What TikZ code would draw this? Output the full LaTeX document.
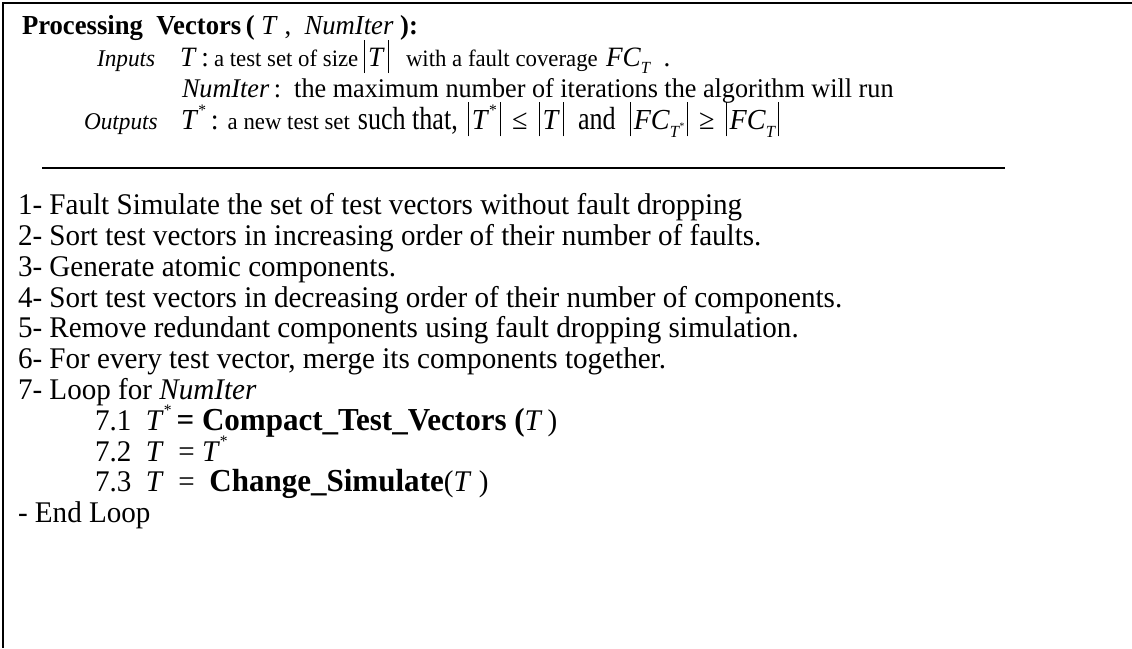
\documentclass[tikz,border=0pt]{standalone}
\usepackage{fontspec}
\setmainfont{Liberation Serif}[FakeStretch=0.97]
\newcommand\bodysize{\fontsize{30}{31}\selectfont}
\newcommand\midsize{\fontsize{27}{28}\selectfont}
\newcommand\headsize{\fontsize{27.5}{29}\selectfont}
\newcommand\labsize{\fontsize{24}{25}\selectfont}
\newcommand\smallsize{\fontsize{23.5}{25}\selectfont}
\newcommand\boldsize{\fontsize{32}{33}\selectfont}
% tall absolute-value bar
\newcommand\absline{\rule[-0.25em]{1.1pt}{1.18em}}
\newcommand\absof[1]{\absline\hspace{3pt}#1\hspace{3pt}\absline}
% lowered italic subscript
\newcommand\lowsub[1]{\raisebox{-0.28em}{\fontsize{17}{17}\selectfont\itshape #1}}
\newcommand\starsup{\raisebox{0.48em}{\fontsize{16}{16}\selectfont *}}
\newcommand\tinystar{\raisebox{0.42em}{\fontsize{10}{10}\selectfont *}}
% wide words set in a tall, narrow cut
\newcommand\tallword[1]{\scalebox{0.84}[1]{\fontsize{32}{33}\selectfont #1}}
\newcommand\gap[1]{\hspace{#1pt}}
\tikzset{
  txt/.style={anchor=base west, inner sep=0pt, outer sep=0pt, font=\bodysize},
  sym/.style={txt, font=\fontsize{28}{29}\selectfont},
  sml/.style={txt, font=\smallsize},
  frame/.style={line width=2pt, black}
}
\begin{document}
\begin{tikzpicture}[x=1pt,y=-1pt]
\useasboundingbox (0,0) rectangle (1132,648);
% open frame along top and left
\coordinate (frTL) at (3,3);
\coordinate (frTR) at (1132,3);
\coordinate (frBL) at (3,648);
\draw[frame] (frTR) -- (frTL) -- (frBL);

% header
\node[txt, font=\headsize] (title) at (22,34) {\textbf{Processing\ \ Vectors\,(}\ \textit{T}\ ,\ \ \textit{NumIter}\ \textbf{):}};

% inputs
\node[txt, font=\labsize\itshape] (inlab) at (97,66) {Inputs};
\node[sym] (inT) at (180,66) {\textit{T}\,:};
\node[sml] (inA) at (214,66) {a test set of size};
\node[sym] (inB) at (364,66) {\absof{\textit{T}}};
\node[sml] (inC) at (406,66) {with a fault coverage};
\node[sym] (inD) at (606,66) {\textit{FC}\lowsub{T}\ \ .};

% iteration bound
\node[txt, font=\midsize] (inN) at (182,97) {\textit{NumIter}\,:\ \ the maximum number of iterations the algorithm will run};

% outputs
\node[txt, font=\labsize\itshape] (outlab) at (84,129) {Outputs};
\node[sym, font=\fontsize{29}{30}\selectfont] (outT) at (181,129) {\textit{T}\starsup\,:\gap{9}{\smallsize a new test set}\gap{8}\tallword{such that,}\gap{10}\absof{\textit{T}\starsup}\gap{11}≤\gap{11}\absof{\textit{T}}\gap{14}\tallword{and}\gap{14}\absof{\textit{FC}\lowsub{T\tinystar}}\gap{11}≥\gap{11}\absof{\textit{FC}\lowsub{T}}};

\coordinate (ruleL) at (42,168);
\coordinate (ruleR) at (1005,168);
\draw[line width=2pt] (ruleL) -- (ruleR);

% algorithm steps
\node[txt] (s1) at (18,214) {1- Fault Simulate the set of test vectors without fault dropping};
\node[txt] (s2) at (18,245) {2- Sort test vectors in increasing order of their number of faults.};
\node[txt] (s3) at (18,276) {3- Generate atomic components.};
\node[txt] (s4) at (18,307) {4- Sort test vectors in decreasing order of their number of components.};
\node[txt] (s5) at (18,337) {5- Remove redundant components using fault dropping simulation.};
\node[txt] (s6) at (18,368) {6- For every test vector, merge its components together.};
\node[txt] (s7) at (18,399) {7- Loop for \textit{NumIter}};
\node[txt] (s71) at (95,430) {7.1\ \ \textit{T}\starsup\,{\boldsize\textbf{= Compact\_Test\_Vectors (}}\textit{T}\,)};
\node[txt] (s72) at (95,461) {7.2\ \ \textit{T}\ \ = \textit{T}\starsup};
\node[txt] (s73) at (95,491) {7.3\ \ \textit{T}\ \ =\ \ {\boldsize\textbf{Change\_Simulate}}(\textit{T}\ )};
\node[txt] (s8) at (18,522) {- End Loop};
\end{tikzpicture}
\end{document}
